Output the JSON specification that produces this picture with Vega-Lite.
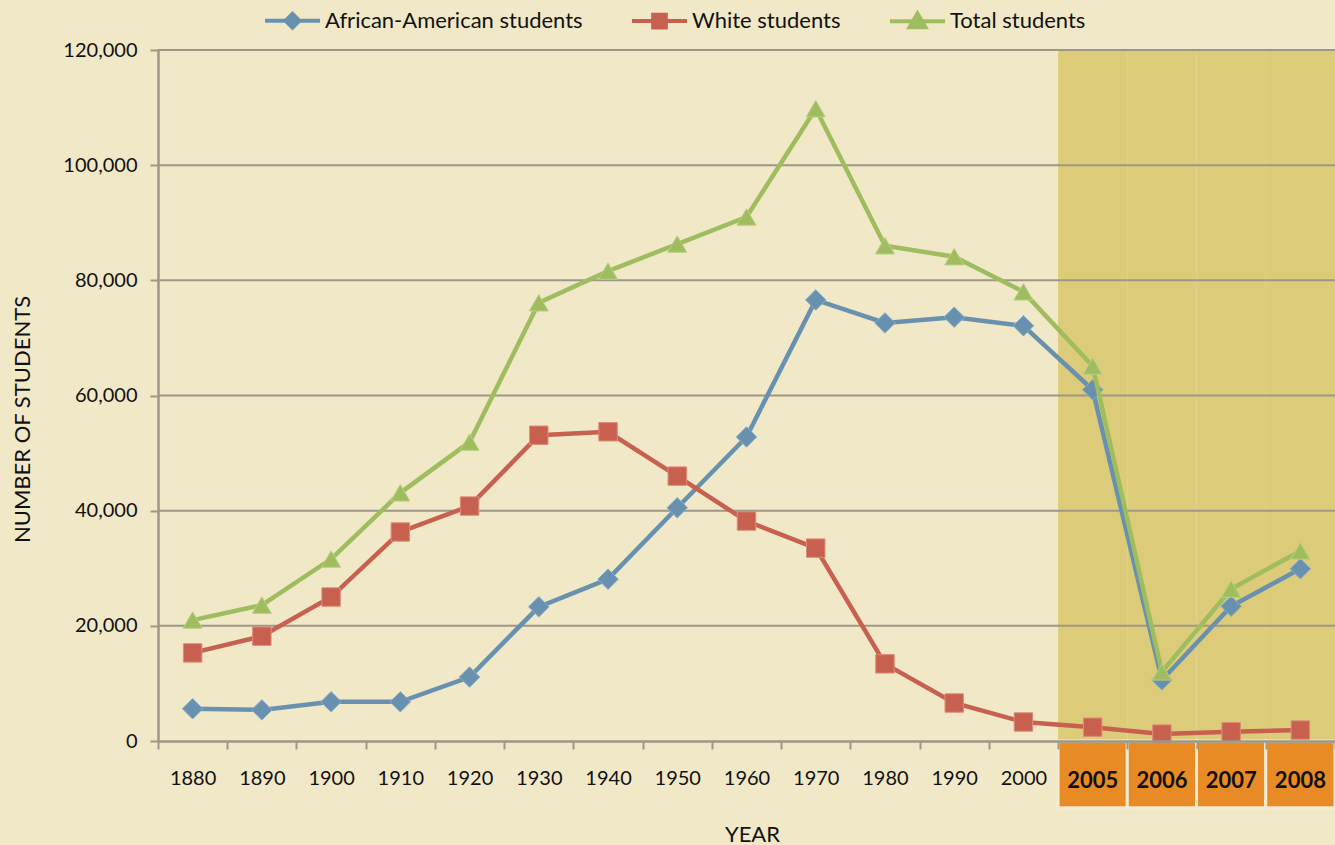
{
  "$schema": "https://vega.github.io/schema/vega-lite/v6.json",
  "width": 1177,
  "height": 691,
  "autosize": {"type": "none"},
  "padding": {"left": 158, "top": 50, "right": 0, "bottom": 104},
  "background": "#f1e8c7",
  "config": {
    "view": {"stroke": null},
    "font": "Lato",
    "axis": {"labelFont": "Lato", "titleFont": "Lato"},
    "legend": {"labelFont": "Lato"}
  },
  "datasets": {
    "students": [
      {"year": "1880", "series": "African-American students", "value": 5600},
      {"year": "1890", "series": "African-American students", "value": 5400},
      {"year": "1900", "series": "African-American students", "value": 6800},
      {"year": "1910", "series": "African-American students", "value": 6800},
      {"year": "1920", "series": "African-American students", "value": 11100},
      {"year": "1930", "series": "African-American students", "value": 23300},
      {"year": "1940", "series": "African-American students", "value": 28100},
      {"year": "1950", "series": "African-American students", "value": 40500},
      {"year": "1960", "series": "African-American students", "value": 52800},
      {"year": "1970", "series": "African-American students", "value": 76600},
      {"year": "1980", "series": "African-American students", "value": 72600},
      {"year": "1990", "series": "African-American students", "value": 73600},
      {"year": "2000", "series": "African-American students", "value": 72100},
      {"year": "2005", "series": "African-American students", "value": 61000},
      {"year": "2006", "series": "African-American students", "value": 10600},
      {"year": "2007", "series": "African-American students", "value": 23400},
      {"year": "2008", "series": "African-American students", "value": 29900},
      {"year": "1880", "series": "White students", "value": 15300},
      {"year": "1890", "series": "White students", "value": 18200},
      {"year": "1900", "series": "White students", "value": 25000},
      {"year": "1910", "series": "White students", "value": 36300},
      {"year": "1920", "series": "White students", "value": 40800},
      {"year": "1930", "series": "White students", "value": 53100},
      {"year": "1940", "series": "White students", "value": 53700},
      {"year": "1950", "series": "White students", "value": 46000},
      {"year": "1960", "series": "White students", "value": 38200},
      {"year": "1970", "series": "White students", "value": 33500},
      {"year": "1980", "series": "White students", "value": 13400},
      {"year": "1990", "series": "White students", "value": 6600},
      {"year": "2000", "series": "White students", "value": 3300},
      {"year": "2005", "series": "White students", "value": 2400},
      {"year": "2006", "series": "White students", "value": 1200},
      {"year": "2007", "series": "White students", "value": 1600},
      {"year": "2008", "series": "White students", "value": 1900},
      {"year": "1880", "series": "Total students", "value": 21000},
      {"year": "1890", "series": "Total students", "value": 23600},
      {"year": "1900", "series": "Total students", "value": 31600},
      {"year": "1910", "series": "Total students", "value": 43100},
      {"year": "1920", "series": "Total students", "value": 51900},
      {"year": "1930", "series": "Total students", "value": 76100},
      {"year": "1940", "series": "Total students", "value": 81600},
      {"year": "1950", "series": "Total students", "value": 86300},
      {"year": "1960", "series": "Total students", "value": 91000},
      {"year": "1970", "series": "Total students", "value": 109800},
      {"year": "1980", "series": "Total students", "value": 86000},
      {"year": "1990", "series": "Total students", "value": 84100},
      {"year": "2000", "series": "Total students", "value": 78000},
      {"year": "2005", "series": "Total students", "value": 65100},
      {"year": "2006", "series": "Total students", "value": 12000},
      {"year": "2007", "series": "Total students", "value": 26400},
      {"year": "2008", "series": "Total students", "value": 33000}
    ],
    "recent": [
      {"year": "2005", "top": 120000, "bottom": 0, "boxBottom": -11600, "labelPos": -6950},
      {"year": "2006", "top": 120000, "bottom": 0, "boxBottom": -11600, "labelPos": -6950},
      {"year": "2007", "top": 120000, "bottom": 0, "boxBottom": -11600, "labelPos": -6950},
      {"year": "2008", "top": 120000, "bottom": 0, "boxBottom": -11600, "labelPos": -6950}
    ],
    "grid": [
      {"v": 20000}, {"v": 40000}, {"v": 60000}, {"v": 80000}, {"v": 100000}, {"v": 120000}
    ]
  },
  "encoding": {
    "x": {
      "field": "year",
      "type": "ordinal",
      "scale": {
        "type": "band",
        "domain": ["1880","1890","1900","1910","1920","1930","1940","1950","1960","1970","1980","1990","2000","2005","2006","2007","2008"],
        "paddingInner": 0,
        "paddingOuter": 0
      },
      "axis": {
        "title": "YEAR",
        "titleFontSize": 22,
        "titleFontWeight": "normal",
        "titleColor": "#111111",
        "titleX": 594,
        "titleY": 93,
        "titleBaseline": "middle",
        "titleAlign": "center",
        "labelAngle": 0,
        "labelFontSize": 20,
        "labelColor": "#111111",
        "labelPadding": 19,
        "labelExpr": "toNumber(datum.value) >= 2005 ? '' : datum.label",
        "tickBand": "extent",
        "tickSize": 8,
        "tickColor": "#9c9788",
        "tickWidth": 2,
        "domainColor": "#9c9788",
        "domainWidth": 2.5,
        "grid": false
      }
    },
    "y": {
      "type": "quantitative",
      "scale": {"domain": [0, 120000], "nice": false, "zero": true},
      "axis": {
        "title": "NUMBER OF STUDENTS",
        "titleFontSize": 22,
        "titleFontWeight": "normal",
        "titleColor": "#111111",
        "titleAngle": -90,
        "titleX": -136,
        "titleY": 369,
        "titleAlign": "center",
        "titleBaseline": "middle",
        "values": [0, 20000, 40000, 60000, 80000, 100000, 120000],
        "format": ",d",
        "labelFontSize": 20,
        "labelColor": "#111111",
        "labelPadding": 13,
        "tickSize": 8,
        "tickColor": "#9c9788",
        "tickWidth": 2,
        "domainColor": "#9c9788",
        "domainWidth": 2.5,
        "grid": false
      }
    }
  },
  "layer": [
    {
      "data": {"name": "recent"},
      "mark": {"type": "rect", "color": "#dccc79"},
      "encoding": {
        "y": {"field": "top", "type": "quantitative"},
        "y2": {"field": "bottom"}
      }
    },
    {
      "data": {"name": "grid"},
      "mark": {"type": "rule", "color": "#9c9788", "strokeWidth": 2},
      "encoding": {
        "x": {"value": 0},
        "x2": {"value": 1177},
        "y": {"field": "v", "type": "quantitative"}
      }
    },
    {
      "data": {"name": "recent"},
      "mark": {"type": "rect", "color": "#e98b24", "stroke": "#f3ead0", "strokeWidth": 3},
      "encoding": {
        "y": {"field": "bottom", "type": "quantitative"},
        "y2": {"field": "boxBottom"}
      }
    },
    {
      "data": {"name": "recent"},
      "mark": {"type": "text", "fontSize": 22, "fontWeight": "bold", "color": "#111111", "baseline": "middle", "align": "center"},
      "encoding": {
        "y": {"field": "labelPos", "type": "quantitative"},
        "text": {"field": "year"}
      }
    },
    {
      "data": {"name": "students"},
      "transform": [{"filter": "datum.series === 'African-American students'"}],
      "mark": {"type": "line", "strokeWidth": 4.5, "color": "#6791ae"},
      "encoding": {"y": {"field": "value", "type": "quantitative"}}
    },
    {
      "data": {"name": "students"},
      "transform": [{"filter": "datum.series === 'African-American students'"}],
      "mark": {"type": "point", "shape": "diamond", "size": 420, "filled": true, "fill": "#6791ae", "stroke": "#8cadc4", "strokeWidth": 1, "opacity": 1},
      "encoding": {"y": {"field": "value", "type": "quantitative"}}
    },
    {
      "data": {"name": "students"},
      "transform": [{"filter": "datum.series === 'White students'"}],
      "mark": {"type": "line", "strokeWidth": 4.5, "color": "#c8604f"},
      "encoding": {"y": {"field": "value", "type": "quantitative"}}
    },
    {
      "data": {"name": "students"},
      "transform": [{"filter": "datum.series === 'White students'"}],
      "mark": {"type": "point", "shape": "square", "size": 340, "filled": true, "fill": "#c8604f", "stroke": "#e08a78", "strokeWidth": 1, "opacity": 1},
      "encoding": {"y": {"field": "value", "type": "quantitative"}}
    },
    {
      "data": {"name": "students"},
      "transform": [{"filter": "datum.series === 'Total students'"}],
      "mark": {"type": "line", "strokeWidth": 4.5, "color": "#9fbd5f"},
      "encoding": {"y": {"field": "value", "type": "quantitative"}}
    },
    {
      "data": {"name": "students"},
      "transform": [{"filter": "datum.series === 'Total students'"}],
      "mark": {"type": "point", "shape": "triangle-up", "size": 360, "filled": true, "fill": "#9fbd5f", "stroke": "#b7cf80", "strokeWidth": 1, "opacity": 1},
      "encoding": {"y": {"field": "value", "type": "quantitative"}}
    },
    {
      "data": {"name": "students"},
      "mark": {"type": "point", "filled": true, "opacity": 0},
      "encoding": {
        "y": {"field": "value", "type": "quantitative"},
        "color": {
          "field": "series",
          "type": "nominal",
          "sort": null,
          "scale": {
            "domain": ["African-American students", "White students", "Total students"],
            "range": ["#6791ae", "#c8604f", "#9fbd5f"]
          },
          "legend": {
            "title": null,
            "orient": "none",
            "direction": "horizontal",
            "legendX": 105,
            "legendY": -59,
            "symbolSize": 3025,
            "symbolOpacity": 1,
            "symbolStrokeWidth": 4,
            "labelFontSize": 22,
            "labelColor": "#111111",
            "labelOffset": 3,
            "columnPadding": 41,
            "labelLimit": 400,
            "encode": {
              "symbols": {
                "update": {
                  "opacity": {"value": 1},
                  "stroke": {"scale": "color", "field": "value"},
                  "strokeWidth": {"value": 4}
                }
              }
            }
          }
        },
        "shape": {
          "field": "series",
          "type": "nominal",
          "sort": null,
          "scale": {
            "domain": ["African-American students", "White students", "Total students"],
            "range": [
              "M-1,0H1M0,-0.25L0.25,0L0,0.25L-0.25,0Z",
              "M-1,0H1M-0.23,-0.23H0.23V0.23H-0.23Z",
              "M-1,0H1M0,-0.29L0.29,0.21H-0.29Z"
            ]
          },
          "legend": {
            "title": null,
            "orient": "none",
            "direction": "horizontal",
            "legendX": 105,
            "legendY": -59,
            "symbolSize": 3025,
            "symbolOpacity": 1,
            "symbolStrokeWidth": 4,
            "labelFontSize": 22,
            "labelColor": "#111111",
            "labelOffset": 3,
            "columnPadding": 41,
            "labelLimit": 400,
            "encode": {
              "symbols": {
                "update": {
                  "opacity": {"value": 1},
                  "stroke": {"scale": "color", "field": "value"},
                  "strokeWidth": {"value": 4}
                }
              }
            }
          }
        }
      }
    }
  ]
}
